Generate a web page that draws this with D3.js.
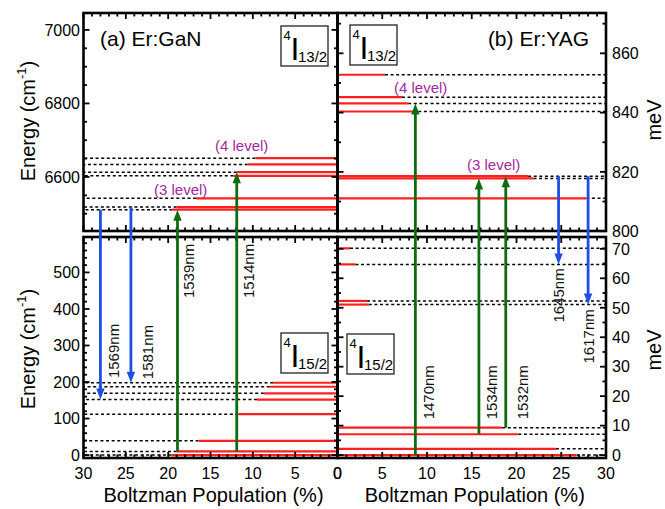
<!DOCTYPE html>
<html>
<head>
<meta charset="utf-8">
<script src="https://cdn.jsdelivr.net/npm/d3@7"></script>
<style>
  body { margin: 0; background: #fff; }
  svg { display: block; font-family: "Liberation Sans", Arial, sans-serif; }
</style>
</head>
<body>
<svg id="chart" width="665" height="509"></svg>
<script>
// ---- data ----
const popTicks = [0, 5, 10, 15, 20, 25, 30];
const cmTopTicks = [6600, 6800, 7000];
const cmBotTicks = [0, 100, 200, 300, 400, 500];
const meVTopTicks = [800, 820, 840, 860];
const meVBotTicks = [0, 10, 20, 30, 40, 50, 60, 70];

// Er:GaN  4I13/2 and 4I15/2 Stark levels (cm-1) and Boltzmann populations (%)
const ganUpperE = [6511, 6518, 6542, 6603, 6613, 6634, 6651];
const ganUpperP = [19.5, 19.0, 16.7, 12.3, 11.9, 10.6, 9.7];
const ganLowerE = [0, 10, 39, 112, 152, 169, 187, 198];
const ganLowerP = [19.6, 19.0, 16.4, 11.7, 9.5, 8.7, 8.0, 7.6];

// Er:YAG
const yagUpperE = [6542, 6596, 6602, 6778, 6800, 6817, 6878];
const yagUpperP = [27.8, 21.9, 21.3, 8.4, 7.9, 7.2, 5.3];
const yagLowerE = [0, 17, 57, 75, 412, 422, 522, 566];
const yagLowerP = [26.7, 24.4, 20.2, 18.4, 3.5, 3.3, 2.0, 1.4];

// transitions: label, population position (%), from level, to level (cm-1)
const ganLines = ["1569nm", "1581nm", "1539nm", "1514nm"];
const ganLinePop = [28.0, 24.4, 18.9, 11.9];
const ganLineFrom = [6511, 6518, 10, 10];
const ganLineTo = [152, 198, 6511, 6613];

const yagLines = ["1470nm", "1534nm", "1532nm", "1645nm", "1617nm"];
const yagLinePop = [8.7, 15.8, 18.8, 24.7, 28.0];
const yagLineFrom = [0, 57, 75, 6602, 6602];
const yagLineTo = [6800, 6596, 6602, 522, 412];

// ---- layout ----
const CM_PER_MEV = 8.0655;
const svg = d3.select("#chart");
const xL = d3.scaleLinear().domain([30, 0]).range([83.5, 337.5]);
const xR = d3.scaleLinear().domain([0, 30]).range([337.5, 606]);
const yT = d3.scaleLinear().domain([6453, 7046]).range([231, 13]);
const yB = d3.scaleLinear().domain([-8, 597]).range([458, 237]);
const yTm = d3.scaleLinear().domain([6453 / CM_PER_MEV, 7046 / CM_PER_MEV]).range([231, 13]);
const yBm = d3.scaleLinear().domain([-8 / CM_PER_MEV, 597 / CM_PER_MEV]).range([458, 237]);

const RED = "#ff1f1f", GREEN = "#0f6b12", BLUE = "#1d4fe0", PURPLE = "#a3279e";

// label placement (offset from arrow, energy of label centre)
const labelPlace = {
  "1569nm": [13, 285], "1581nm": [17, 282], "1539nm": [11, 504], "1514nm": [12, 504],
  "1470nm": [13, 172], "1534nm": [13, 172], "1532nm": [16.5, 172],
  "1645nm": [0, 437], "1617nm": [0, 325]
};

function levelY(e) { return e > 3000 ? yT(e) : yB(e); }

// ---- energy levels ----
function drawLevels(x, y, energies, pops) {
  const g = svg.append("g");
  g.selectAll("line.dash")
    .data(energies)
    .enter().append("line")
    .attr("x1", (d, i) => x(pops[i]))
    .attr("x2", x(30))
    .attr("y1", d => y(d)).attr("y2", d => y(d))
    .attr("stroke", "#000").attr("stroke-width", 1.5)
    .attr("stroke-dasharray", "3,2.6");
  g.selectAll("line.lev")
    .data(energies)
    .enter().append("line")
    .attr("x1", x(0))
    .attr("x2", (d, i) => x(pops[i]))
    .attr("y1", d => y(d)).attr("y2", d => y(d))
    .attr("stroke", RED).attr("stroke-width", 2.2);
}
drawLevels(xL, yT, ganUpperE, ganUpperP);
drawLevels(xL, yB, ganLowerE, ganLowerP);
drawLevels(xR, yT, yagUpperE, yagUpperP);
drawLevels(xR, yB, yagLowerE, yagLowerP);

// ---- frames and ticks ----
function frame(x0, x1, y0, y1) {
  svg.append("rect").attr("x", x0).attr("y", y0)
    .attr("width", x1 - x0).attr("height", y1 - y0)
    .attr("fill", "none").attr("stroke", "#000").attr("stroke-width", 2.6);
}
function xTicks(x, y, dir) {
  svg.append("g").selectAll("line")
    .data(d3.range(0, 31, 1))
    .enter().append("line")
    .attr("x1", d => x(d)).attr("x2", d => x(d))
    .attr("y1", y).attr("y2", d => y + dir * (d % 5 === 0 ? 6 : 3.5))
    .attr("stroke", "#000").attr("stroke-width", 1.8);
}
function yTicks(y, xpos, dir, lo, hi, step, major) {
  svg.append("g").selectAll("line")
    .data(d3.range(lo, hi + 0.001, step))
    .enter().append("line")
    .attr("y1", d => y(d)).attr("y2", d => y(d))
    .attr("x1", xpos).attr("x2", d => xpos + dir * (Math.abs(d % major) < 0.01 ? 6 : 3.5))
    .attr("stroke", "#000").attr("stroke-width", 1.8);
}

frame(83.5, 337.5, 13, 231);
frame(337.5, 606, 13, 231);
frame(83.5, 337.5, 237, 458);
frame(337.5, 606, 237, 458);

xTicks(xL, 13, 1); xTicks(xL, 231, -1); xTicks(xL, 237, 1); xTicks(xL, 458, -1);
xTicks(xR, 13, 1); xTicks(xR, 231, -1); xTicks(xR, 237, 1); xTicks(xR, 458, -1);

yTicks(yT, 83.5, 1, 6500, 7000, 50, 200);
yTicks(yT, 337.5, -1, 6500, 7000, 50, 200);
yTicks(yB, 83.5, 1, 0, 580, 20, 100);
yTicks(yB, 337.5, -1, 0, 580, 20, 100);
yTicks(yTm, 606, -1, 800, 870, 10, 20);
yTicks(yTm, 337.5, 1, 800, 870, 10, 20);
yTicks(yBm, 606, -1, 0, 70, 5, 10);
yTicks(yBm, 337.5, 1, 0, 70, 5, 10);

// ---- transitions ----
function drawArrows(x, labels, pops, from, to) {
  labels.forEach((lab, i) => {
    const ax = x(pops[i]);
    const y1 = levelY(from[i]), y2 = levelY(to[i]);
    const up = y2 < y1;
    const col = up ? GREEN : BLUE;
    const dir = up ? -1 : 1;
    const hl = 11, hw = 4.2;
    svg.append("line")
      .attr("x1", ax).attr("x2", ax)
      .attr("y1", y1).attr("y2", y2 - dir * hl * 0.7)
      .attr("stroke", col).attr("stroke-width", 2.8);
    svg.append("path")
      .attr("d", `M${ax},${y2} L${ax - hw},${y2 - dir * hl} L${ax + hw},${y2 - dir * hl} Z`)
      .attr("fill", col);
    const p = labelPlace[lab];
    svg.append("text")
      .attr("transform", `translate(${ax + p[0]},${yB(p[1])}) rotate(-90)`)
      .attr("text-anchor", "middle").attr("dy", "0.36em")
      .style("font-size", "15px").attr("fill", "#111")
      .text(lab);
  });
}
drawArrows(xL, ganLines, ganLinePop, ganLineFrom, ganLineTo);
drawArrows(xR, yagLines, yagLinePop, yagLineFrom, yagLineTo);

// ---- tick labels ----
function xLabels(x) {
  svg.append("g").selectAll("text")
    .data(popTicks).enter().append("text")
    .attr("x", d => x(d)).attr("y", 479)
    .attr("text-anchor", "middle").style("font-size", "16px")
    .text(d => d);
}
xLabels(xL); xLabels(xR);

function yLabels(y, ticks, xpos, anchor) {
  svg.append("g").selectAll("text")
    .data(ticks).enter().append("text")
    .attr("x", xpos).attr("y", d => y(d)).attr("dy", "0.36em")
    .attr("text-anchor", anchor).style("font-size", "16px")
    .text(d => d);
}
yLabels(yT, cmTopTicks, 80, "end");
yLabels(yB, cmBotTicks, 80, "end");
yLabels(yTm, meVTopTicks, 612, "start");
yLabels(yBm, meVBotTicks, 612, "start");

// ---- axis titles ----
[xL, xR].forEach(x => {
  svg.append("text")
    .attr("x", (x.range()[0] + x.range()[1]) / 2 + 3).attr("y", 502)
    .attr("text-anchor", "middle").style("font-size", "20px")
    .text("Boltzman Population (%)");
});

function energyTitle(cy) {
  const t = svg.append("text")
    .attr("transform", `translate(35,${cy}) rotate(-90)`)
    .attr("text-anchor", "middle").style("font-size", "20px");
  t.append("tspan").text("Energy (cm");
  t.append("tspan").attr("dy", -9).style("font-size", "13px").text("-1");
  t.append("tspan").attr("dy", 9).text(")");
}
energyTitle(121);
energyTitle(349);

[120, 350].forEach(cy => {
  svg.append("text")
    .attr("transform", `translate(661,${cy}) rotate(-90)`)
    .attr("text-anchor", "middle").style("font-size", "20px")
    .text("meV");
});

// ---- panel titles ----
svg.append("text").attr("x", 100).attr("y", 46).style("font-size", "21px").text("(a) Er:GaN");
svg.append("text").attr("x", 589).attr("y", 46).attr("text-anchor", "end")
  .style("font-size", "21px").text("(b) Er:YAG");

// ---- term boxes ----
function termBox(x0, y0, sub) {
  svg.append("rect").attr("x", x0).attr("y", y0).attr("width", 47).attr("height", 40)
    .attr("fill", "#fff").attr("stroke", "#222").attr("stroke-width", 1.3);
  svg.append("text").attr("x", x0 + 2.5).attr("y", y0 + 14).style("font-size", "13px").text("4");
  svg.append("text").attr("x", x0 + 9.5).attr("y", y0 + 34).style("font-size", "32px").text("I");
  svg.append("text").attr("x", x0 + 17).attr("y", y0 + 35.5).style("font-size", "15px").text(sub);
}
termBox(281, 26, "13/2");
termBox(350, 25, "13/2");
termBox(281, 333, "15/2");
termBox(347, 334, "15/2");

// ---- level group notes ----
[[215, 151, "(4 level)"], [154, 195, "(3 level)"], [394, 93, "(4 level)"], [467, 170, "(3 level)"]]
  .forEach(n => {
    svg.append("text").attr("x", n[0]).attr("y", n[1])
      .style("font-size", "15px").attr("fill", PURPLE).text(n[2]);
  });
</script>
</body>
</html>
